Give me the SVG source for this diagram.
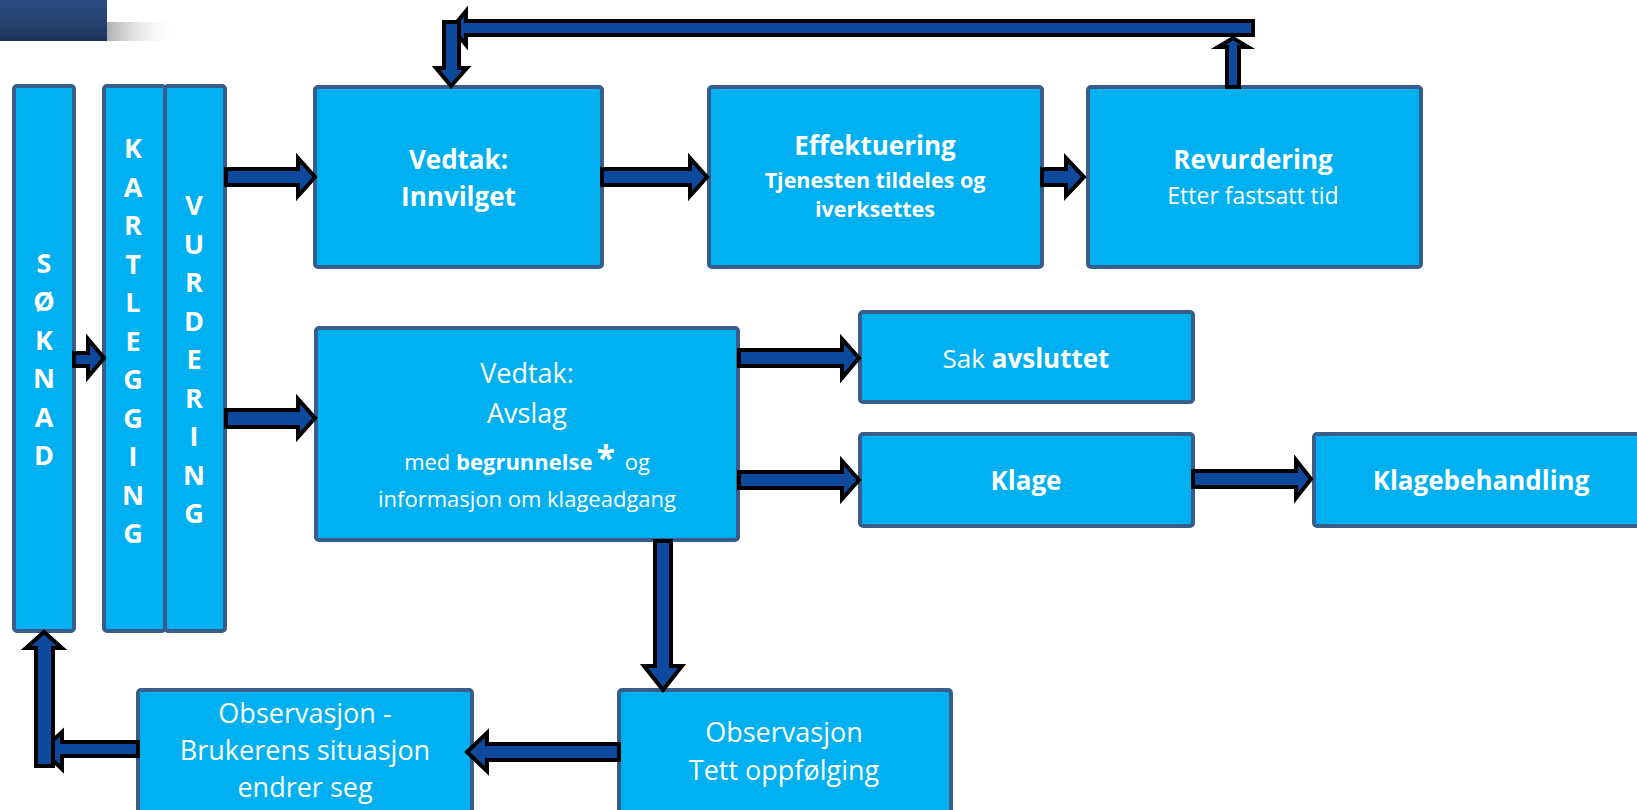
<svg xmlns="http://www.w3.org/2000/svg" width="1637" height="810" viewBox="0 0 1637 810">
<defs>
<linearGradient id="ban" x1="0" y1="0" x2="0" y2="1">
<stop offset="0" stop-color="#2B4B80"/>
<stop offset="0.6" stop-color="#25416F"/>
<stop offset="1" stop-color="#1A2F58"/>
</linearGradient>
<linearGradient id="shd" x1="0" y1="0" x2="1" y2="0">
<stop offset="0" stop-color="#9A9A9A" stop-opacity="0.8"/>
<stop offset="1" stop-color="#FFFFFF" stop-opacity="0"/>
</linearGradient>
<style>
.box{fill:#00B0F0;stroke:#385D8A;stroke-width:4}
.arr{fill:#0D4A9E;stroke:#000;stroke-width:4;stroke-linejoin:miter}
text{font-family:"Open Sans","Liberation Sans",sans-serif;fill:#FFFFFF;text-anchor:middle}
.b{font-weight:bold}
.v{font-weight:bold;font-size:27px}
.t26{font-size:26px}
.t27{font-size:27px}
.t22{font-size:22px}
.t23{font-size:23px}
.t21{font-size:21.5px}
</style>
</defs>
<rect width="1637" height="810" fill="#FFFFFF"/>
<rect x="107" y="22" width="70" height="19" fill="url(#shd)"/>
<rect x="0" y="0" width="107" height="41" fill="url(#ban)"/>

<g id="soknad">
<rect class="box" x="14" y="86" width="60" height="545" rx="3"/>
<text class="v" x="44" y="273">S</text>
<text class="v" x="44" y="311.4">Ø</text>
<text class="v" x="44" y="349.8">K</text>
<text class="v" x="44" y="388.2">N</text>
<text class="v" x="44" y="426.6">A</text>
<text class="v" x="44" y="465">D</text>
</g>
<g id="kartlegging">
<rect class="box" x="104" y="86" width="61" height="545" rx="3"/>
<text class="v" x="133" y="158">K</text>
<text class="v" x="133" y="196.5">A</text>
<text class="v" x="133" y="235">R</text>
<text class="v" x="133" y="273.5">T</text>
<text class="v" x="133" y="312">L</text>
<text class="v" x="133" y="350.5">E</text>
<text class="v" x="133" y="389">G</text>
<text class="v" x="133" y="427.5">G</text>
<text class="v" x="133" y="466">I</text>
<text class="v" x="133" y="504.5">N</text>
<text class="v" x="133" y="543">G</text>
</g>
<g id="vurdering">
<rect class="box" x="165" y="86" width="60" height="545" rx="3"/>
<text class="v" x="194" y="215">V</text>
<text class="v" x="194" y="253.5">U</text>
<text class="v" x="194" y="292">R</text>
<text class="v" x="194" y="330.5">D</text>
<text class="v" x="194" y="369">E</text>
<text class="v" x="194" y="407.5">R</text>
<text class="v" x="194" y="446">I</text>
<text class="v" x="194" y="484.5">N</text>
<text class="v" x="194" y="523">G</text>
</g>
<g id="innvilget">
<rect class="box" x="315" y="87" width="287" height="180" rx="3"/>
<text class="t26 b" x="458.5" y="169">Vedtak:</text>
<text class="t26 b" x="458.5" y="206">Innvilget</text>
</g>
<g id="effektuering">
<rect class="box" x="709" y="87" width="333" height="180" rx="3"/>
<text class="t26 b" x="875" y="155">Effektuering</text>
<text class="t21 b" x="875" y="188">Tjenesten tildeles og</text>
<text class="t21 b" x="875" y="217">iverksettes</text>
</g>
<g id="revurdering">
<rect class="box" x="1088" y="87" width="333" height="180" rx="3"/>
<text class="t26 b" x="1253" y="169">Revurdering</text>
<text class="t23" x="1253" y="204">Etter fastsatt tid</text>
</g>
<g id="avslag">
<rect class="box" x="316" y="328" width="422" height="212" rx="3"/>
<text class="t27" x="527" y="383">Vedtak:</text>
<text class="t27" x="527" y="423">Avslag</text>
<text class="t22" x="527" y="470">med <tspan class="b">begrunnelse</tspan><tspan class="b" font-size="34" dx="4">*</tspan><tspan dx="4"> og</tspan></text>
<text class="t22" x="527" y="507">informasjon om klageadgang</text>
</g>
<g id="sak-avsluttet">
<rect class="box" x="860" y="312" width="333" height="90" rx="3"/>
<text class="t26" x="1026" y="368">Sak <tspan class="b">avsluttet</tspan></text>
</g>
<g id="klage">
<rect class="box" x="860" y="434" width="333" height="92" rx="3"/>
<text class="t26 b" x="1026" y="490">Klage</text>
</g>
<g id="klagebehandling">
<rect class="box" x="1314" y="434" width="336" height="92" rx="3"/>
<text class="t26 b" x="1481" y="490">Klagebehandling</text>
</g>
<g id="obs-brukerens">
<rect class="box" x="138" y="690" width="334" height="130" rx="3"/>
<text class="t27" x="305" y="723">Observasjon -</text>
<text class="t27" x="305" y="760">Brukerens situasjon</text>
<text class="t27" x="305" y="797">endrer seg</text>
</g>
<g id="obs-tett">
<rect class="box" x="619" y="690" width="332" height="130" rx="3"/>
<text class="t27" x="784" y="742">Observasjon</text>
<text class="t27" x="784" y="780">Tett oppfølging</text>
</g>

<g id="connectors">
<path class="arr" d="M74 353 L88 353 L88 339 L104 358 L88 377 L88 366 L74 366 Z"/>
<path class="arr" d="M226 169 L298 169 L298 158 L315 177 L298 196 L298 185 L226 185 Z"/>
<path class="arr" d="M226 410 L298 410 L298 399 L315 418 L298 437 L298 427 L226 427 Z"/>
<path class="arr" d="M602 169 L690 169 L690 158 L707 177 L690 196 L690 185 L602 185 Z"/>
<path class="arr" d="M1042 169 L1066 169 L1066 158 L1084 177 L1066 196 L1066 185 L1042 185 Z"/>
<path class="arr" d="M739 350 L842 350 L842 339 L859 358 L842 378 L842 366 L739 366 Z"/>
<path class="arr" d="M739 472 L842 472 L842 461 L859 480 L842 499 L842 488 L739 488 Z"/>
<path class="arr" d="M1193 471 L1296 471 L1296 460 L1311 479 L1296 498 L1296 487 L1193 487 Z"/>
<path class="arr" d="M655 541 L655 666 L644 666 L663 690 L682 666 L671 666 L671 541 Z"/>
<path class="arr" d="M619 744 L487 744 L487 733 L467 752 L487 771 L487 760 L619 760 Z"/>
<path class="arr" d="M138 742 L62 742 L62 732 L42 750 L62 769 L62 756 L138 756 Z"/>
<path class="arr" d="M36 766 L36 648 L26 648 L44 632 L62 648 L53 648 L53 766 Z"/>
<path class="arr" d="M1227 87 L1227 47 L1218 47 L1233 38 L1248 47 L1239 47 L1239 87 Z"/>
<path class="arr" d="M1253 21 L466 21 L466 11 L452 28 L466 45 L466 35 L1253 35 Z"/>
<path class="arr" d="M444 22 L444 68 L436 68 L451 86 L467 68 L459 68 L459 22 Z"/>
</g>
</svg>
